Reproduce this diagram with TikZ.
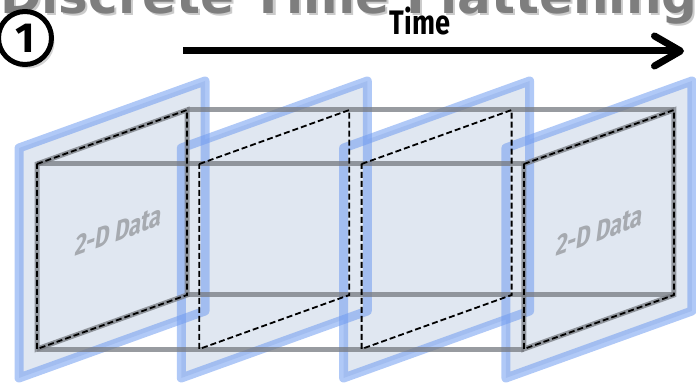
\documentclass[tikz,border=0pt]{standalone}
\usepackage{fontspec}
\setmainfont{Fira Sans}
\newfontfamily\titlefont{DejaVu Sans}
\usetikzlibrary{arrows.meta,positioning,calc,shadows}

\definecolor{panelfill}{RGB}{224,231,241}
\definecolor{panelblue}{RGB}{112,156,240}
\definecolor{boxgray}{RGB}{118,122,128}
\definecolor{titlegray}{RGB}{126,126,126}
\definecolor{labelgray}{RGB}{166,170,176}

\tikzset{
  panelface/.style={fill=panelfill},
  paneledge/.style={draw=panelblue, draw opacity=0.55, line width=9pt, line join=round},
  boxline/.style={draw=boxgray, draw opacity=0.75, line width=5pt},
  dataedge/.style={draw=black, line width=1.8pt, dash pattern=on 6pt off 3pt},
  datalabel/.style={font=\bfseries\fontsize{30}{30}\selectfont, text=labelgray,
    transform shape, cm={0.74,0.27,0.13,1,(0,0)}},
}

\begin{document}
\begin{tikzpicture}[x=1pt, y=-1pt]
    \useasboundingbox (0,0) rectangle (696,387);
    \clip (0,0) rectangle (696,387);

    % title, cut off by the top edge
    \node[anchor=base west, inner sep=0pt, text=titlegray!40,
      font=\titlefont\bfseries\fontsize{50}{50}\selectfont] (titleshade) at (2,16) {Discrete Time Flattening};
    \node[anchor=base west, inner sep=0pt, text=titlegray,
      font=\titlefont\bfseries\fontsize{50}{50}\selectfont] (title) at (0,14) {Discrete Time Flattening};

    % step number
    \node[circle, draw=black, line width=5pt, fill=white, minimum size=53pt, inner sep=0pt,
      font=\bfseries\fontsize{42}{42}\selectfont,
      drop shadow={shadow xshift=3pt, shadow yshift=-4pt, opacity=0.35}] (stepnum) at (25,38) {1};

    % time axis
    \coordinate (tstart) at (183,51);
    \coordinate (tend) at (684,51);
    \draw[line width=7pt, -{Straight Barb[length=26pt, width=30pt, line cap=round, line join=round]}]
      (tstart) -- (tend);
    \node[anchor=base, inner sep=0pt, font=\bfseries\fontsize{34}{34}\selectfont,
      xscale=0.8, transform shape] (timelabel) at (420,35) {Time};

    % panels (faces, then edges)
    \foreach \i in {0,...,3} {
      \begin{scope}[xshift=\i*162.3pt]
        \fill[panelface] (19,148) -- (205,81) -- (205,311) -- (19,378) -- cycle;
        \coordinate (p\i tl) at (37,164);
        \coordinate (p\i tr) at (187,110);
        \coordinate (p\i br) at (187,295);
        \coordinate (p\i bl) at (37,349);
      \end{scope}
    }
    \foreach \i in {0,...,3} {
      \begin{scope}[xshift=\i*162.3pt]
        \draw[paneledge] (19,148) -- (205,81) -- (205,311) -- (19,378) -- cycle;
      \end{scope}
    }

    % box through the stack
    \draw[boxline] (p0tl) -- (p0tr) -- (p0br) -- (p0bl) -- cycle;
    \draw[boxline] (p3tl) -- (p3tr) -- (p3br) -- (p3bl) -- cycle;
    \foreach \c in {tl,tr,br,bl}
      \draw[boxline] (p0\c) -- (p3\c);

    % 2-D slices
    \foreach \i in {0,...,3}
      \draw[dataedge] (p\i tl) -- (p\i tr) -- (p\i br) -- (p\i bl) -- cycle;

    \node[datalabel] (firstdata) at (119,231) {2-D Data};
    \node[datalabel] (lastdata) at (600,231) {2-D Data};
  \end{tikzpicture}
\end{document}
